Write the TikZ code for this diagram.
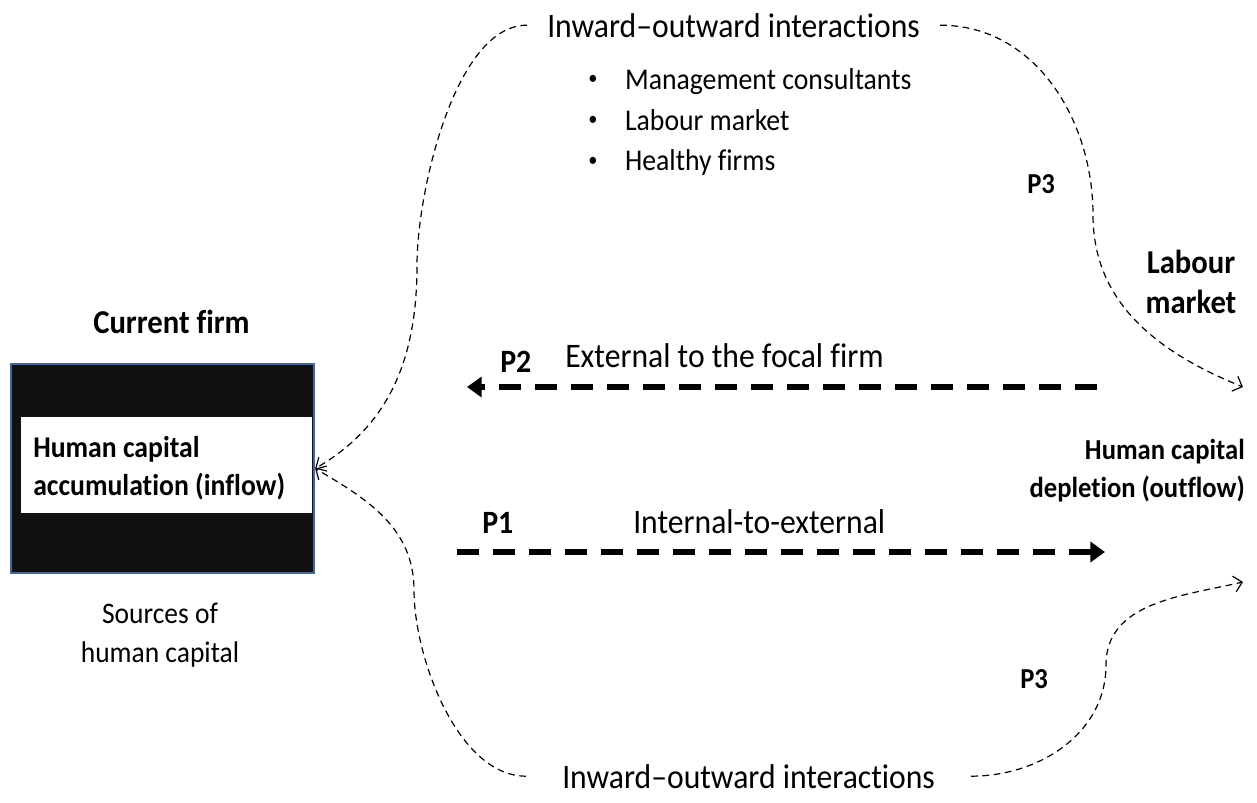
\documentclass[tikz,border=0pt]{standalone}
\usepackage{fontspec}
\usepackage{graphicx}
\setmainfont{Carlito}[Ligatures={NoCommon}]
\usetikzlibrary{arrows.meta}
\definecolor{boxblue}{RGB}{70,104,152}
\definecolor{boxblack}{RGB}{17,17,17}
\newcommand{\mlines}[2]{\begin{tabular}[t]{@{}#1@{}}#2\end{tabular}}
\newcommand{\cnd}[1]{\scalebox{0.92}[1]{#1}}
\newcommand{\bul}{\raisebox{0.15em}{\fontsize{15pt}{15pt}\selectfont\textbullet}}
\begin{document}
\begin{tikzpicture}[x=0.75pt,y=-0.75pt,
  every node/.style={inner sep=0pt, text=black},
  bigreg/.style={font=\fontsize{25.8pt}{28pt}\selectfont},
  smallreg/.style={font=\fontsize{22.6pt}{30.75pt}\selectfont},
  boldlab/.style={font=\bfseries\fontsize{25pt}{30pt}\selectfont},
  plab/.style={font=\bfseries\fontsize{24.4pt}{26pt}\selectfont},
  p3lab/.style={font=\bfseries\fontsize{21.7pt}{24pt}\selectfont},
  thinflow/.style={draw=black, line width=0.9pt, dash pattern=on 5pt off 3.5pt,
     -{Straight Barb[length=6pt,width=12pt,line width=0.9pt]}},
  thickflow/.style={draw=black, line width=5pt, dash pattern=on 16.5pt off 10.5pt,
     -{Triangle[length=11pt,width=15pt]}}
]
\useasboundingbox (0,0) rectangle (1257,803);

% current firm box
\node (firm) [anchor=north west, draw=boxblue, line width=1.6pt, fill=boxblack,
  minimum width=227.25pt, minimum height=156.75pt] at (10,363) {};
\node (band) [anchor=north west, fill=white,
  minimum width=218.25pt, minimum height=72pt] at (21,417) {};
\node (hcin) [anchor=base west, font=\bfseries\fontsize{22.6pt}{28.5pt}\selectfont]
  at (33,457) {\cnd{\mlines{l}{Human capital\\accumulation (inflow)}}};

\node (cf) [boldlab, anchor=base] at (171.5,333) {\cnd{Current firm}};
\node (src) [anchor=base, font=\fontsize{22.4pt}{29.25pt}\selectfont]
  at (160,623) {\cnd{\mlines{c}{Sources of\\human capital}}};

% interactions texts
\node (iotop) [bigreg, anchor=base west, inner xsep=15pt] at (527,37) {\cnd{Inward–outward interactions}};
\node (iobot) [bigreg, anchor=base west, inner xsep=27pt] at (526,788) {\cnd{Inward–outward interactions}};
\node (bullets) [smallreg, anchor=base west] at (588,89)
  {\cnd{\begin{tabular}[t]{@{}p{30pt}@{}l@{}}\bul & Management consultants\\
   \bul & Labour market\\ \bul & Healthy firms\end{tabular}}};

% right side labels
\node (lab) [boldlab, anchor=base] at (1191,273) {\cnd{\mlines{c}{Labour\\market}}};
\node (dep) [anchor=base east, font=\bfseries\fontsize{21.7pt}{29pt}\selectfont]
  at (1245,459) {\cnd{\mlines{r}{Human capital\\depletion (outflow)}}};
\node (p3t) [p3lab, anchor=base west] at (1027,193) {\cnd{P3}};
\node (p3b) [p3lab, anchor=base west] at (1020,688) {\cnd{P3}};

% middle flows
\node (p2) [plab, anchor=base west] at (500,372) {\cnd{P2}};
\node (ext) [bigreg, anchor=base west] at (565,367) {\cnd{External to the focal firm}};
\node (p1) [plab, anchor=base west] at (482,533) {\cnd{P1}};
\node (int) [bigreg, anchor=base west] at (633,533) {\cnd{Internal-to-external}};

\coordinate (p2s) at (1097,387);
\coordinate (p2e) at (467,387);
\coordinate (p1s) at (457,552);
\coordinate (p1e) at (1105,552);
\draw[thickflow] (p2s) -- (p2e);
\draw[thickflow] (p1s) -- (p1e);

% curved interaction connectors
\coordinate (tlmid) at (417,265);
\coordinate (blmid) at (414,590);
\coordinate (trmid) at (1093,215);
\coordinate (brmid) at (1106,665);
\coordinate (lmend) at (1243,387);
\coordinate (hcdend) at (1243,582);

\draw[thinflow] (iotop.west) to[out=180,in=90,looseness=0.7] (tlmid)
   to[out=-90,in=30] (firm.east);
\draw[thinflow] (iobot.west) to[out=180,in=-90,looseness=0.8] (blmid)
   to[out=90,in=-30] (firm.east);
\draw[thinflow] (iotop.east) to[out=0,in=90] (trmid)
   to[out=-90,in=158] (lmend);
\draw[thinflow] (iobot.east) to[out=0,in=-90] (brmid)
   to[out=90,in=193] (hcdend);
\end{tikzpicture}
\end{document}
